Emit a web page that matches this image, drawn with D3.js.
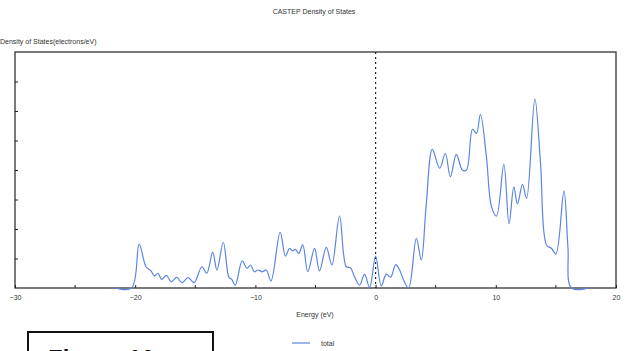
<!DOCTYPE html>
<html>
<head>
<meta charset="utf-8">
<script src="https://cdn.jsdelivr.net/npm/d3@7"></script>
<style>
  body { margin: 0; background: #fff; }
  svg text { font-family: "Liberation Sans", Arial, sans-serif; fill: #333; }
</style>
</head>
<body>
<div id="chart"></div>
<script>
// total DOS: energy (eV) and states (electrons/eV)
const energy = [-21.7, -20.3, -19.67, -19.1, -18.7, -18.4, -18.1, -17.8, -17.4, -17.0, -16.55, -16.1, -15.6, -15.1,
  -14.45, -14.05, -13.55, -13.2, -12.67, -12.2, -11.97, -11.67, -11.1, -10.7, -10.4, -10.1, -9.8, -9.4, -9.1, -8.7,
  -7.94, -7.5, -7.17, -6.9, -6.67, -6.4, -6.06, -5.64, -5.08, -4.67, -4.1, -3.64, -3.0, -2.44, -2.1, -1.75, -1.33,
  -0.92, -0.5, 0.0, 0.47, 0.89, 1.25, 1.67, 2.0, 2.33, 2.75, 3.39, 3.8, 4.2, 4.72, 5.33, 5.8, 6.22, 6.72, 7.22, 7.56,
  8.06, 8.39, 8.72, 9.22, 9.64, 10.06, 10.67, 11.1, 11.5, 11.8, 12.22, 12.56, 13.25, 13.72, 14.22, 14.64, 15.0,
  15.67, 16.0, 16.3, 17.8];
const total = [0, 0, 1.49, 0.72, 0.59, 0.41, 0.5, 0.29, 0.43, 0.21, 0.36, 0.18, 0.35, 0.18,
  0.72, 0.5, 1.21, 0.61, 1.55, 0.36, 0.29, 0.1, 0.92, 0.67, 0.78, 0.55, 0.61, 0.55, 0.61, 0.24,
  1.89, 1.08, 1.34, 1.26, 1.31, 1.17, 1.46, 0.55, 1.34, 0.58, 1.38, 0.78, 2.44, 0.72, 0.69, 0.38, 0.1,
  0.47, 0.02, 1.08, 0.07, 0.47, 0.37, 0.79, 0.61, 0.27, 0.0, 1.68, 0.95, 2.76, 4.7, 4.06, 4.56, 3.77, 4.53, 4.0, 4.0,
  5.38, 5.24, 5.89, 4.45, 2.76, 2.44, 4.19, 2.17, 3.43, 2.85, 3.51, 3.04, 6.41, 4.23, 1.46, 1.34, 1.15,
  3.29, 1.4, 0, 0];
const xTicks = [-30, -20, -10, 0, 10, 20];
const xMinor = [-25, -15, -5, 5, 15];
const yTicks = [1, 2, 3, 4, 5, 6, 7];

const W = 628, H = 351;
const margin = {left: 15, right: 12, top: 52, bottom: 63};

const svg = d3.select('#chart').append('svg')
  .attr('width', W).attr('height', H);

const x = d3.scaleLinear().domain([-30, 20]).range([margin.left, W - margin.right]);
const y = d3.scaleLinear().domain([0, 8]).range([H - margin.bottom, margin.top]);

// title and axis titles
svg.append('text').attr('x', 314).attr('y', 14).attr('text-anchor', 'middle')
  .attr('font-size', 7).text('CASTEP Density of States');
svg.append('text').attr('x', 0).attr('y', 44)
  .attr('font-size', 7).text('Density of States(electrons/eV)');
svg.append('text').attr('x', 315).attr('y', 317).attr('text-anchor', 'middle')
  .attr('font-size', 7).text('Energy (eV)');

// plot frame
svg.append('rect')
  .attr('x', x(-30)).attr('y', y(8))
  .attr('width', x(20) - x(-30)).attr('height', y(0) - y(8))
  .attr('fill', 'none').attr('stroke', '#222').attr('stroke-width', 1.2);

// ticks (inward)
const bottomAxis = d3.axisBottom(x).tickValues(xTicks).tickSize(-3).tickPadding(7)
  .tickFormat(d3.format('d'));
const gx = svg.append('g').attr('transform', `translate(0,${y(0)})`).call(bottomAxis);
gx.select('.domain').remove();
gx.selectAll('text').attr('font-size', 7).attr('fill', '#444');
gx.selectAll('line').attr('stroke', '#222');

svg.append('g').selectAll('line').data(xMinor).enter().append('line')
  .attr('x1', d => x(d)).attr('x2', d => x(d))
  .attr('y1', y(0)).attr('y2', y(0) - 3)
  .attr('stroke', '#222');

const leftAxis = d3.axisLeft(y).tickValues(yTicks).tickSize(-3).tickFormat('');
const gy = svg.append('g').attr('transform', `translate(${x(-30)},0)`).call(leftAxis);
gy.select('.domain').remove();
gy.selectAll('line').attr('stroke', '#222');

// Fermi level
svg.append('line')
  .attr('x1', x(0)).attr('x2', x(0))
  .attr('y1', y(8)).attr('y2', y(0))
  .attr('stroke', '#222').attr('stroke-width', 1.2)
  .attr('stroke-dasharray', '2,3');

// DOS curve
const pts = energy.map((e, i) => [e, total[i]]);
const line = d3.line()
  .x(d => x(d[0]))
  .y(d => y(Math.max(0, d[1])))
  .curve(d3.curveCatmullRom.alpha(0.5));
svg.append('path').datum(pts)
  .attr('d', line)
  .attr('fill', 'none')
  .attr('stroke', '#5b84e3')
  .attr('stroke-width', 1.2);

// legend
svg.append('line').attr('x1', 292).attr('x2', 310).attr('y1', 343).attr('y2', 343)
  .attr('stroke', '#5b84e3').attr('stroke-width', 1.2);
svg.append('text').attr('x', 321).attr('y', 345.5).attr('font-size', 7).text('total');

// caption box (cut off at the bottom)
svg.append('rect').attr('x', 28).attr('y', 332).attr('width', 185).attr('height', 60)
  .attr('fill', 'none').attr('stroke', '#111').attr('stroke-width', 2);
svg.append('text').attr('x', 48).attr('y', 367).attr('font-size', 24)
  .attr('font-weight', 'bold').style('fill', '#111').text('Figure 10');
</script>
</body>
</html>
